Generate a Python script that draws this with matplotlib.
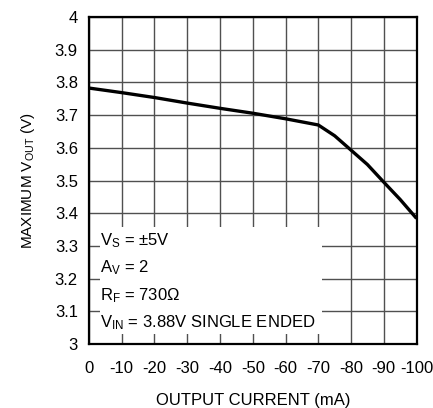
import matplotlib
matplotlib.use("Agg")
import matplotlib.pyplot as plt
from matplotlib.patches import Rectangle

plt.rcParams['font.family'] = ['Liberation Sans', 'DejaVu Sans']
plt.rcParams['mathtext.fontset'] = 'custom'
plt.rcParams['mathtext.rm'] = 'Liberation Sans'
plt.rcParams['mathtext.it'] = 'Liberation Sans'

# data
current_ma = [0, -10, -20, -30, -40, -50, -60, -70, -75, -80, -85, -90, -95, -100]
vout_max = [3.783, 3.769, 3.754, 3.737, 3.721, 3.706, 3.689, 3.670,
            3.637, 3.593, 3.549, 3.495, 3.442, 3.384]

x_ticks = list(range(0, -101, -10))
y_ticks = [3.0, 3.1, 3.2, 3.3, 3.4, 3.5, 3.6, 3.7, 3.8, 3.9, 4.0]
y_labels = ['3', '3.1', '3.2', '3.3', '3.4', '3.5', '3.6', '3.7', '3.8', '3.9', '4']

conditions = [r'V$_\mathrm{S}$ = ±5V',
              r'A$_\mathrm{V}$ = 2',
              r'R$_\mathrm{F}$ = 730Ω',
              r'V$_\mathrm{IN}$ = 3.88V SINGLE ENDED']
cond_y = [3.302, 3.220, 3.135, 3.052]

fig = plt.figure(figsize=(4.33, 4.08), dpi=100)
ax = fig.add_axes([0.2055, 0.157, 0.7565, 0.801])

ax.plot(current_ma, vout_max, color='black', lw=2.4, solid_capstyle='butt', zorder=4)

ax.set_xlim(0, -100)
ax.set_ylim(3, 4)
ax.set_xticks(x_ticks)
ax.set_xticklabels([str(t) for t in x_ticks])
ax.set_yticks(y_ticks)
ax.set_yticklabels(y_labels)
ax.tick_params(length=0, labelsize=12)
ax.tick_params(axis='x', pad=12)
ax.tick_params(axis='y', pad=8)

ax.set_axisbelow(True)
ax.grid(True, color='#505050', lw=1.0)
for s in ax.spines.values():
    s.set_linewidth(1.6)
    s.set_color('black')

# white box behind the test conditions
ax.add_patch(Rectangle((-3.4, 3.03), -67.6, 0.327, facecolor='white',
                       edgecolor='none', zorder=2))
for line, y in zip(conditions, cond_y):
    ax.text(-3.4, y, line, fontsize=12, ha='left', va='baseline', zorder=3)

ax.set_xlabel('OUTPUT CURRENT (mA)', fontsize=12, labelpad=12.5)
ax.set_ylabel(r'MAXIMUM V$_\mathrm{OUT}$ (V)', fontsize=11, labelpad=13)

fig.savefig('out.png', dpi=100)
